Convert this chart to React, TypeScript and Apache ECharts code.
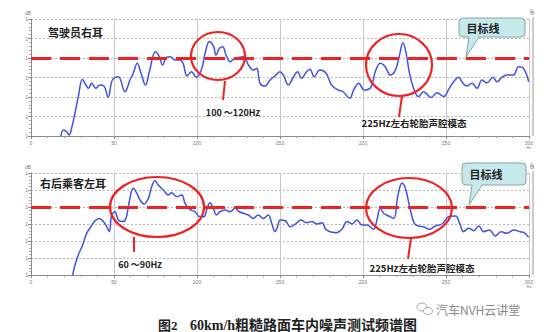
import React, { useEffect, useRef } from "react";
import * as echarts from "echarts";

// Frequency axis ticks (Hz) and level range (dB)
const freqTicks = [0, 50, 100, 150, 200, 250, 300];
const levelMin = 20;
const levelMax = 80;
const targetLevel = 60;

// Driver right ear spectrum
const driverHz = [18, 19.5, 21.5, 23, 24.5, 26.5, 28.5, 31, 33, 34.7, 36.5, 39, 41.5, 44, 46.5, 49, 52.6, 56.6, 59.6, 61.6, 64, 66, 69, 71.3, 75, 77.3, 79.3, 81.7, 84, 86.6, 89.6, 91.6, 94, 96.6, 99.6, 102.6, 105.1, 107.5, 110, 111.5, 113.5, 115.5, 117.5, 120, 122, 128, 131, 134, 136, 138, 141, 144, 147, 150, 152, 155, 158, 160.6, 163, 166, 168, 170.6, 174, 177.8, 181, 185, 188, 192, 194.4, 197.4, 200.8, 204.8, 207.4, 210.4, 213.4, 216.4, 219.5, 222, 224, 226, 228, 230.5, 233.5, 236.5, 241, 244.6, 248.6, 251.6, 254.6, 257.6, 260, 262.6, 265.6, 268.7, 271.7, 274.7, 278.3, 280.7, 283.7, 286.7, 290.7, 293.7, 296.7, 299.8];
const driverDb = [20.0, 23.1, 22.2, 20.5, 24.1, 31.8, 40.2, 49.1, 46.2, 44.5, 47.0, 44.5, 46.2, 45.6, 39.8, 48.7, 50.4, 42.7, 48.7, 52.2, 57.3, 53.0, 46.2, 53.0, 63.2, 60.7, 56.4, 60.4, 60.7, 59.0, 59.0, 57.3, 50.8, 53.0, 50.1, 53.8, 63.2, 68.4, 65.8, 61.5, 65.0, 65.8, 61.5, 58.1, 59.3, 60.7, 56.4, 53.8, 54.7, 47.0, 45.6, 48.7, 50.8, 53.0, 51.3, 46.2, 50.1, 53.0, 49.6, 53.0, 54.2, 50.4, 53.8, 52.2, 46.2, 43.6, 42.7, 39.3, 43.6, 47.0, 43.6, 45.0, 53.0, 57.3, 55.5, 51.3, 53.8, 61.5, 67.8, 62.4, 52.2, 44.5, 40.2, 42.7, 39.8, 42.2, 40.2, 43.9, 47.8, 50.1, 47.3, 45.6, 47.0, 44.5, 48.7, 47.3, 50.1, 47.8, 50.1, 51.3, 51.3, 55.5, 54.7, 47.8];

// Right rear passenger left ear spectrum
const passengerHz = [25.1, 26.5, 28.5, 31.1, 33.5, 35.9, 38.6, 41.1, 43.6, 45.6, 47.2, 48.6, 50.6, 52.6, 55.2, 57.2, 59.2, 61.6, 63.7, 65.7, 68.1, 70.7, 72.7, 74.7, 76.7, 79.7, 82.7, 84.8, 87.8, 90.8, 92.8, 95.8, 98.8, 101.8, 104.2, 105.8, 107.8, 109.8, 111.8, 113.8, 116.9, 119.9, 122.9, 125.5, 130.9, 133.9, 136.9, 139.9, 142.9, 145, 147, 148.2, 150.2, 153.2, 156.2, 159.3, 162.7, 165.9, 169.3, 172.3, 175.3, 177.9, 183.9, 187.3, 190.4, 193.4, 196.4, 199.4, 202.4, 206.4, 208.4, 210.4, 212.5, 215.5, 218.5, 220.9, 223.5, 225.5, 228.1, 230.9, 233.5, 236.5, 240.1, 243.5, 247.6, 251.6, 255.6, 258.6, 260.6, 263.6, 266.7, 269.7, 272.7, 276.3, 279.7, 283.1, 286.7, 290.7, 294.7, 297.1, 299.8];
const passengerDb = [20.0, 25.9, 31.8, 37.6, 44.5, 48.1, 51.9, 53.3, 51.4, 48.4, 45.5, 55.3, 57.2, 52.4, 51.4, 53.3, 63.1, 71.0, 68.1, 64.1, 61.8, 65.1, 71.9, 75.5, 72.9, 70.0, 67.1, 68.4, 66.1, 67.1, 62.2, 58.6, 57.2, 54.3, 54.3, 58.2, 62.5, 59.2, 55.3, 57.2, 58.2, 57.2, 59.2, 57.2, 55.3, 53.3, 55.3, 53.3, 55.3, 50.4, 45.5, 47.5, 52.4, 51.9, 48.4, 50.0, 52.4, 50.8, 51.4, 50.0, 50.8, 46.5, 44.9, 46.9, 51.4, 50.0, 52.4, 49.4, 49.4, 46.9, 52.4, 59.2, 56.3, 54.7, 53.3, 66.1, 73.9, 71.0, 60.2, 50.4, 48.8, 48.4, 46.9, 48.8, 50.0, 54.3, 54.7, 49.4, 45.5, 47.5, 46.1, 48.8, 45.5, 46.5, 42.9, 45.5, 44.5, 46.5, 45.5, 44.9, 42.2];

const panelLabels = ["驾驶员右耳", "右后乘客左耳"];
const targetText = "目标线";
const bandText = ["100 ～120Hz", "60 ～90Hz"];
const cavityText = "225Hz左右轮胎声腔模态";
const captionFig = "图2";
const captionText = "60km/h粗糙路面车内噪声测试频谱图";
const watermark = "汽车NVH云讲堂";

const RED = "#ee2222";
const BLUE = "#4052e6";
const CJK = "'Noto Sans CJK SC', sans-serif";

const pairs = (xs: number[], ys: number[]) => xs.map((x, i) => [x, ys[i]]);

const xAxisBase = (gridIndex: number) => ({
  type: "value" as const,
  gridIndex,
  min: freqTicks[0],
  max: freqTicks[freqTicks.length - 1],
  interval: freqTicks[1] - freqTicks[0],
  axisLine: { lineStyle: { color: "#8a8a8a", width: 1 } },
  axisTick: { show: true, length: 3, lineStyle: { color: "#8a8a8a" } },
  minorTick: { show: true, splitNumber: 5, length: 2, lineStyle: { color: "#999" } },
  axisLabel: { fontSize: 5, color: "#777", margin: 4 },
  splitLine: { show: true, lineStyle: { color: "#c8c8c8", width: 1 } },
});

const yAxisBase = (gridIndex: number) => ({
  type: "value" as const,
  gridIndex,
  min: levelMin,
  max: levelMax,
  interval: 10,
  name: "dB",
  nameGap: 4,
  nameTextStyle: { fontSize: 5, color: "#777", align: "right" as const },
  axisLine: { show: true, lineStyle: { color: "#8a8a8a" } },
  axisTick: { show: true, length: 3, lineStyle: { color: "#8a8a8a" } },
  minorTick: { show: true, splitNumber: 5, length: 2, lineStyle: { color: "#aaa" } },
  axisLabel: { fontSize: 5, color: "#777", margin: 3, formatter: () => "1" },
  splitLine: { show: true, lineStyle: { color: "#b8b8b8", type: [2, 2] as any, width: 1 } },
});

const redLines = (shape: any) => ({ type: "line", shape, style: { stroke: RED, lineWidth: 2 }, z: 100 });
const ring = (cx: number, cy: number, rx: number, ry: number) => ({
  type: "ellipse",
  shape: { cx, cy, rx, ry },
  style: { fill: "none", stroke: RED, lineWidth: 2.2 },
  z: 100,
});
const label = (x: number, y: number, text: string, size: number, align = "center") => ({
  type: "text",
  x,
  y,
  style: { text, fontSize: size, fontWeight: "bold", fill: "#222", fontFamily: CJK, align, verticalAlign: "middle" },
  z: 100,
});
const callout = (x: number, y: number, w: number, h: number, tipX: number, tipY: number, baseL: number, baseR: number) => [
  {
    type: "rect",
    shape: { x, y, width: w, height: h, r: 4 },
    style: { fill: "#c6e9eb", stroke: "#8aa3a6", lineWidth: 1 },
    z: 110,
  },
  {
    type: "polygon",
    shape: { points: [[baseL, y + h - 1.5], [baseR, y + h - 1.5], [tipX, tipY]] },
    style: { fill: "#c6e9eb" },
    z: 111,
  },
  {
    type: "polyline",
    shape: { points: [[baseL, y + h], [tipX, tipY], [baseR, y + h]] },
    style: { stroke: "#8aa3a6", lineWidth: 1, fill: "none" },
    z: 111,
  },
  {
    type: "text",
    x: x + 24,
    y: y + h / 2,
    style: { text: targetText, fontSize: 11, fontWeight: "bold", fill: "#222", fontFamily: CJK, align: "center", verticalAlign: "middle" },
    z: 112,
  },
];

export default function App() {
  const ref = useRef<HTMLDivElement>(null);

  useEffect(() => {
    document.body.style.margin = "0";
    const chart = echarts.init(ref.current!, undefined, { renderer: "svg" });

    const targetMark = {
      silent: true,
      symbol: "none",
      label: { show: false },
      lineStyle: { color: RED, width: 3, type: [20, 9] as any },
      data: [{ yAxis: targetLevel }],
    };

    chart.setOption({
      animation: false,
      backgroundColor: "#ffffff",
      grid: [
        { left: 31, right: 25, top: 19, height: 117 },
        { left: 31, right: 25, top: 173, height: 102 },
      ],
      xAxis: [xAxisBase(0), xAxisBase(1)],
      yAxis: [yAxisBase(0), yAxisBase(1)],
      series: [
        {
          type: "line",
          xAxisIndex: 0,
          yAxisIndex: 0,
          data: pairs(driverHz, driverDb),
          smooth: 0.4,
          showSymbol: false,
          lineStyle: { color: BLUE, width: 1.5 },
          markLine: targetMark,
        },
        {
          type: "line",
          xAxisIndex: 1,
          yAxisIndex: 1,
          data: pairs(passengerHz, passengerDb),
          smooth: 0.4,
          showSymbol: false,
          lineStyle: { color: BLUE, width: 1.5 },
          markLine: targetMark,
        },
      ],
      graphic: [
        // right frame lines with rotated unit
        { type: "line", shape: { x1: 533, y1: 17, x2: 533, y2: 136 }, style: { stroke: "#9a9a9a", lineWidth: 1 } },
        { type: "line", shape: { x1: 533, y1: 171, x2: 533, y2: 275 }, style: { stroke: "#9a9a9a", lineWidth: 1 } },
        { type: "text", x: 532, y: 12, rotation: -Math.PI / 2, style: { text: "dB", fontSize: 5, fill: "#777", align: "center", verticalAlign: "middle" } },
        { type: "text", x: 532, y: 166, rotation: -Math.PI / 2, style: { text: "dB", fontSize: 5, fill: "#777", align: "center", verticalAlign: "middle" } },
        { type: "text", x: 529, y: 147, style: { text: "Hz", fontSize: 4, fill: "#777", align: "center", verticalAlign: "middle" } },
        { type: "text", x: 529, y: 286, style: { text: "Hz", fontSize: 4, fill: "#777", align: "center", verticalAlign: "middle" } },

        // upper panel annotations
        label(48, 32, panelLabels[0], 11, "left"),
        ring(218, 56, 27, 24),
        redLines({ x1: 225, y1: 81, x2: 223, y2: 100 }),
        label(233, 112, bandText[0], 9),
        ring(399, 65, 33, 31),
        redLines({ x1: 402, y1: 96, x2: 399, y2: 117 }),
        label(414, 123, cavityText, 9.5),
        ...callout(459, 18, 66, 19, 466, 57, 469, 479),

        // lower panel annotations
        label(40, 183, panelLabels[1], 11, "left"),
        ring(157, 207, 47, 30),
        redLines({ x1: 134, y1: 237, x2: 134, y2: 252 }),
        label(140, 264, bandText[1], 9),
        ring(409, 208, 43, 30),
        redLines({ x1: 411, y1: 238, x2: 408, y2: 259 }),
        label(422, 268, cavityText, 9.5),
        ...callout(462, 163, 64, 22, 469, 205, 472, 482),

        // caption
        {
          type: "text",
          x: 158,
          y: 325,
          style: { text: captionFig, fontSize: 13, fontWeight: "bold", fill: "#222", fontFamily: "'Liberation Serif', 'Noto Sans CJK SC', serif", verticalAlign: "middle" },
        },
        {
          type: "text",
          x: 190,
          y: 325,
          style: { text: captionText, fontSize: 14, fontWeight: "bold", fill: "#222", fontFamily: "'Liberation Serif', 'Noto Sans CJK SC', serif", verticalAlign: "middle" },
        },

        // watermark
        { type: "ellipse", shape: { cx: 422, cy: 307, rx: 5, ry: 4 }, style: { fill: "none", stroke: "#aaa", lineWidth: 1 } },
        { type: "ellipse", shape: { cx: 428, cy: 311, rx: 4.5, ry: 3.5 }, style: { fill: "#fff", stroke: "#aaa", lineWidth: 1 } },
        {
          type: "text",
          x: 436,
          y: 309,
          style: { text: watermark, fontSize: 12, fill: "#8a8a8a", fontFamily: CJK, verticalAlign: "middle" },
        },
      ],
    });

    return () => chart.dispose();
  }, []);

  return <div ref={ref} style={{ width: 554, height: 332 }} />;
}
